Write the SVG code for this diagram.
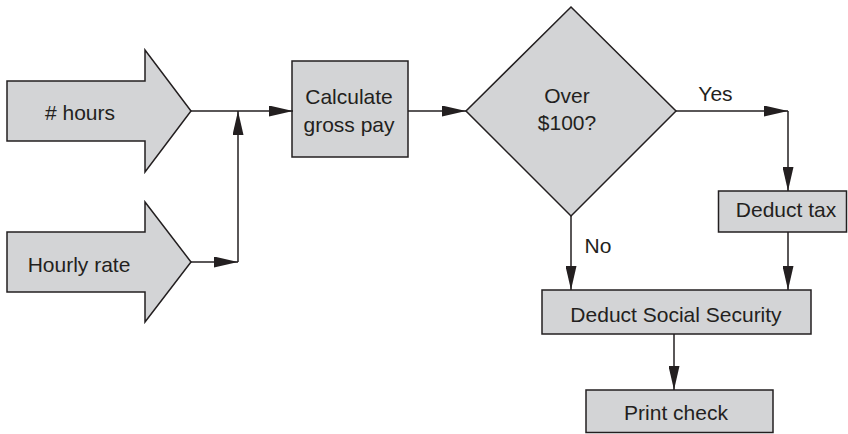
<svg xmlns="http://www.w3.org/2000/svg" width="848" height="434" viewBox="0 0 848 434">
<style>
.shape{fill:#d3d4d6;stroke:#231f20;stroke-width:1.5;stroke-linejoin:miter}
.lbl{font-family:"Liberation Sans",Arial,sans-serif;font-size:21px;fill:#231f20;text-anchor:middle}
.line{fill:none;stroke:#231f20;stroke-width:1.5}
</style>
<defs>
<marker id="ah" viewBox="0 0 24 11" refX="24" refY="5.5" markerWidth="24" markerHeight="11" markerUnits="userSpaceOnUse" orient="auto">
<path d="M0,0 L24,5.5 L0,11 Z" fill="#231f20"/>
</marker>
</defs>
<rect width="848" height="434" fill="#ffffff"/>
<g id="hours">
<polygon class="shape" points="7,81 145,81 145,50 191,111 145,172 145,141 7,141"/>
<text class="lbl" x="80" y="120">&#35; hours</text>
</g>
<g id="hourly-rate">
<polygon class="shape" points="7,232 145,232 145,202 191,262 145,322 145,292 7,292"/>
<text class="lbl" x="79" y="272">Hourly rate</text>
</g>
<g id="calculate">
<rect class="shape" x="292" y="61" width="116" height="96"/>
<text class="lbl" x="349" y="104">Calculate</text>
<text class="lbl" x="349" y="131.5">gross pay</text>
</g>
<g id="decision">
<polygon class="shape" points="571,7 676,111 571,216 466,111"/>
<text class="lbl" x="567" y="103">Over</text>
<text class="lbl" x="567" y="130">$100?</text>
</g>
<g id="deduct-tax">
<rect class="shape" x="718.5" y="191" width="128" height="41"/>
<text class="lbl" x="786" y="217">Deduct tax</text>
</g>
<g id="deduct-ss">
<rect class="shape" x="542" y="290" width="269" height="44"/>
<text class="lbl" x="676" y="322">Deduct Social Security</text>
</g>
<g id="print-check">
<rect class="shape" x="586" y="390" width="187" height="42.5"/>
<text class="lbl" x="676" y="419.5">Print check</text>
</g>
<g id="connectors">
<path class="line" d="M191,111 L293,111" marker-end="url(#ah)"/>
<path class="line" d="M191,262 L238,262" marker-end="url(#ah)"/>
<path class="line" d="M238,262 L238,111" marker-end="url(#ah)"/>
<path class="line" d="M408,111 L466,111" marker-end="url(#ah)"/>
<path class="line" d="M676,111 L788,111" marker-end="url(#ah)"/>
<path class="line" d="M788,111 L788,191" marker-end="url(#ah)"/>
<path class="line" d="M571,216 L571,290" marker-end="url(#ah)"/>
<path class="line" d="M788,232 L788,290" marker-end="url(#ah)"/>
<path class="line" d="M674,334 L674,390" marker-end="url(#ah)"/>
<text class="lbl" x="715.5" y="101">Yes</text>
<text class="lbl" x="598" y="253">No</text>
</g>
</svg>
